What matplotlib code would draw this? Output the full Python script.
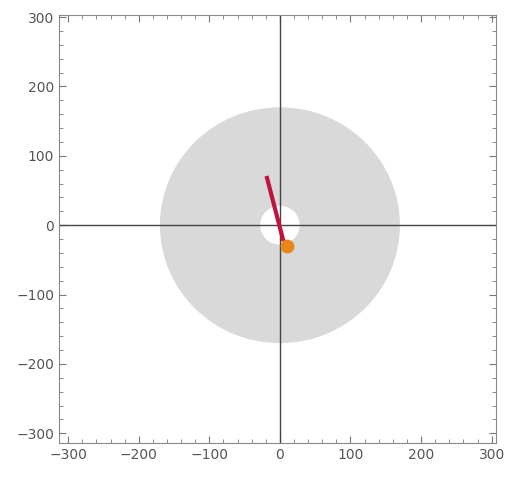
import numpy as np
import matplotlib.pyplot as plt
from matplotlib.patches import Circle, Wedge
from matplotlib.ticker import MultipleLocator

# annulus
outer_r = 170
inner_r = 28

# red segment endpoints
seg_x = [-19, 5]
seg_y = [71, -23]

# orange point
pt_x = [10]
pt_y = [-30]

fig = plt.figure(figsize=(5.06, 4.78), dpi=100)
ax = fig.add_axes([0.1166, 0.0732, 0.8634, 0.8954])

ax.add_patch(Wedge((0, 0), outer_r, 0, 360, width=outer_r - inner_r,
                   facecolor="#d9d9d9", edgecolor="none", zorder=1))
ax.axhline(0, color="#444444", lw=1.0, zorder=2)
ax.axvline(0, color="#444444", lw=1.0, zorder=2)
ax.plot(seg_x, seg_y, "-", color="#c0143c", lw=3, solid_capstyle="butt", zorder=3)
ax.plot(pt_x, pt_y, "o", color="#e8861a", ms=9, zorder=4)

ax.set_xlim(-313, 306)
ax.set_ylim(-314, 303)
ax.xaxis.set_major_locator(MultipleLocator(100))
ax.yaxis.set_major_locator(MultipleLocator(100))
ax.xaxis.set_minor_locator(MultipleLocator(20))
ax.yaxis.set_minor_locator(MultipleLocator(20))
ax.tick_params(which="both", direction="in", top=True, right=True,
               color="#777777", labelcolor="#555555", labelsize=10)
ax.tick_params(which="major", length=5)
ax.tick_params(which="minor", length=3)
for s in ax.spines.values():
    s.set_color("#888888")

plt.savefig("out.png")
